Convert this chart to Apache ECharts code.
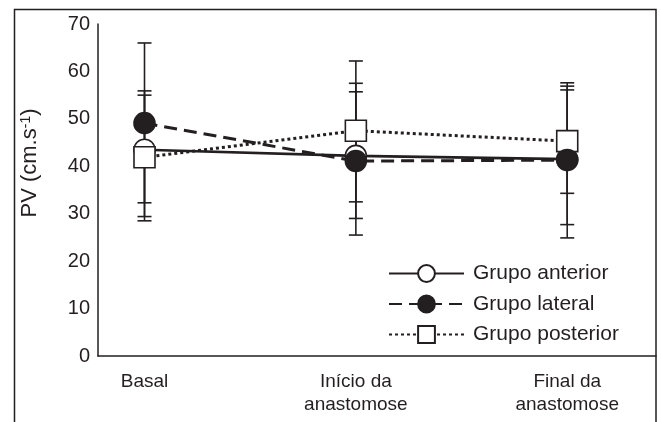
<!DOCTYPE html>
<html>
<head>
<meta charset="utf-8">
<script src="https://cdn.jsdelivr.net/npm/echarts@6/dist/echarts.min.js"></script>
<style>
  html, body { margin: 0; padding: 0; background: #fff; }
  #main { width: 661px; height: 422px; }
</style>
</head>
<body>
<div id="main"></div>
<script>
// categories on the x axis (placed at 0, 1, 2)
const categories = ['Basal', 'Início da\nanastomose', 'Final da\nanastomose'];
const yTicks = [0, 10, 20, 30, 40, 50, 60, 70];

// mean values
const anterior = [43.5, 42.2, 41.5];
const lateral = [49.1, 41.1, 41.3];
const posterior = [41.9, 47.5, 45.3];

// error bar ends
const anteriorHigh = [55.9, 57.5, 56.9];
const anteriorLow = [29.4, 29.0, 27.7];
const lateralHigh = [66.0, 55.7, 56.1];
const lateralLow = [32.3, 25.5, 24.9];
const posteriorHigh = [55.0, 62.2, 57.6];
const posteriorLow = [28.5, 32.5, 34.3];

const ink = '#231f20';
const font = 'Liberation Sans, Arial, sans-serif';

function points(vals) {
  return vals.map((v, i) => [i, v]);
}
function bars(lo, hi) {
  return lo.map((v, i) => [i, v, hi[i]]);
}

function errorBar(params, api) {
  const x = api.value(0);
  const lo = api.coord([x, api.value(1)]);
  const hi = api.coord([x, api.value(2)]);
  const half = 7;
  const style = { stroke: ink, lineWidth: 1.6 };
  return {
    type: 'group',
    children: [
      { type: 'line', shape: { x1: hi[0], y1: hi[1], x2: lo[0], y2: lo[1] }, style: style },
      { type: 'line', shape: { x1: hi[0] - half, y1: hi[1], x2: hi[0] + half, y2: hi[1] }, style: style },
      { type: 'line', shape: { x1: lo[0] - half, y1: lo[1], x2: lo[0] + half, y2: lo[1] }, style: style }
    ]
  };
}

let myChart = echarts.init(document.getElementById('main'));
myChart.setOption({
  animation: false,
  backgroundColor: '#fff',
  graphic: [{
    type: 'rect',
    shape: { x: 14.5, y: 9.5, width: 641.5, height: 440 },
    style: { fill: 'none', stroke: ink, lineWidth: 1.5 },
    silent: true
  }],
  grid: { left: 98, right: 5, top: 24, bottom: 66 },
  legend: {
    orient: 'vertical',
    left: 388,
    top: 263,
    padding: 0,
    itemWidth: 75,
    itemHeight: 21,
    itemGap: 9.5,
    data: ['Grupo anterior', 'Grupo lateral', 'Grupo posterior'],
    textStyle: { color: ink, fontSize: 21, fontFamily: font, padding: [0, 0, 0, 4] }
  },
  xAxis: {
    type: 'value',
    min: -0.22,
    max: 2.42,
    axisLine: { onZero: false, lineStyle: { color: ink, width: 1.5 } },
    axisTick: { show: false },
    splitLine: { show: false },
    axisLabel: {
      customValues: [0, 1, 2],
      formatter: v => categories[v],
      color: ink,
      fontSize: 19,
      fontFamily: font,
      lineHeight: 23,
      margin: 14,
      showMinLabel: true,
      showMaxLabel: true
    }
  },
  yAxis: {
    type: 'value',
    min: 0,
    max: 70,
    interval: 10,
    name: 'PV (cm.s{sup|-1})',
    nameLocation: 'middle',
    nameRotate: 90,
    nameGap: 57,
    nameTextStyle: {
      color: ink,
      fontSize: 22,
      fontFamily: font,
      padding: [0, 0, 0, 54],
      rich: { sup: { fontSize: 14, verticalAlign: 'top', color: ink, fontFamily: font, padding: [0, 0, 8, 0] } }
    },
    axisLine: { show: true, onZero: false, lineStyle: { color: ink, width: 1.5 } },
    axisTick: { show: false },
    splitLine: { show: false },
    axisLabel: {
      color: ink,
      fontSize: 20,
      fontFamily: font,
      margin: 8,
      formatter: v => (yTicks.indexOf(v) >= 0 ? String(v) : '')
    }
  },
  series: [
    {
      type: 'custom',
      renderItem: errorBar,
      data: bars(anteriorLow, anteriorHigh),
      z: 1,
      silent: true
    },
    {
      type: 'custom',
      renderItem: errorBar,
      data: bars(lateralLow, lateralHigh),
      z: 1,
      silent: true
    },
    {
      type: 'custom',
      renderItem: errorBar,
      data: bars(posteriorLow, posteriorHigh),
      z: 1,
      silent: true
    },
    {
      name: 'Grupo anterior',
      type: 'line',
      data: points(anterior),
      symbol: 'circle',
      symbolSize: 21,
      z: 3,
      lineStyle: { color: ink, width: 2.6 },
      itemStyle: { color: '#fff', borderColor: ink, borderWidth: 1.6 }
    },
    {
      name: 'Grupo posterior',
      type: 'line',
      data: points(posterior),
      symbol: 'rect',
      symbolSize: 21,
      z: 4,
      lineStyle: { color: ink, width: 3, type: [3, 3] },
      itemStyle: { color: '#fff', borderColor: ink, borderWidth: 1.6 }
    },
    {
      name: 'Grupo lateral',
      type: 'line',
      data: points(lateral),
      symbol: 'circle',
      symbolSize: 21,
      z: 5,
      lineStyle: { color: ink, width: 3, type: [13, 7] },
      itemStyle: { color: ink, borderColor: ink, borderWidth: 1.6 }
    }
  ]
});
</script>
</body>
</html>
